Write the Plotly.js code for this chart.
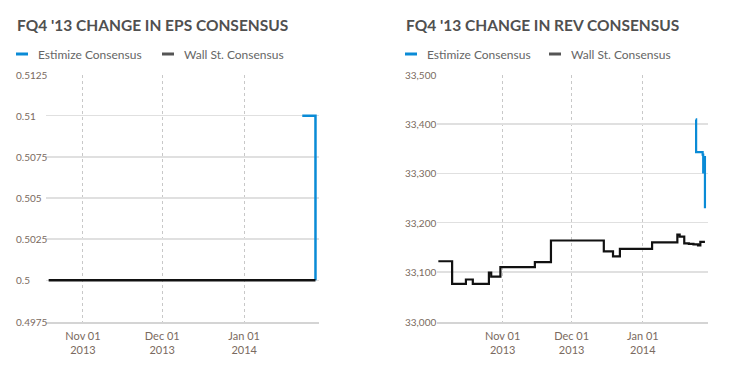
<!DOCTYPE html>
<html>
<head>
<meta charset="utf-8">
<script src="https://cdn.plot.ly/plotly-3.0.1.min.js"></script>
<style>html,body{margin:0;padding:0;background:#fff;}#chart{width:731px;height:380px;}</style>
</head>
<body>
<div id="chart"></div>
<script>
// ---- Data ----
const epsTitle = "FQ4 '13 CHANGE IN EPS CONSENSUS";
const revTitle = "FQ4 '13 CHANGE IN REV CONSENSUS";
const seriesNames = ['Estimize Consensus', 'Wall St. Consensus'];

const epsEstDates = ['2014-01-23', '2014-01-28'];
const epsEstVals = [0.51, 0.5];
const epsWallDates = ['2013-10-19', '2014-01-28'];
const epsWallVals = [0.5, 0.5];

const revEstDates = ['2014-01-24 00:00', '2014-01-24 04:00', '2014-01-27 00:00', '2014-01-27 06:00', '2014-01-27 12:00', '2014-01-28 00:00'];
const revEstVals = [33409, 33343, 33338, 33302, 33333, 33229];
const revWallDates = ['2013-10-04', '2013-10-10', '2013-10-16', '2013-10-19', '2013-10-26', '2013-10-27', '2013-10-31',
  '2013-11-15', '2013-11-22', '2013-12-15', '2013-12-19', '2013-12-22', '2014-01-05', '2014-01-16', '2014-01-17',
  '2014-01-19', '2014-01-21', '2014-01-23', '2014-01-25', '2014-01-26', '2014-01-28'];
const revWallVals = [33122, 33076, 33085, 33076, 33099, 33091, 33110,
  33120, 33164, 33142, 33132, 33147, 33160, 33176, 33172,
  33158, 33157, 33156, 33154, 33161, 33161];

const epsTickVals = [0.4975, 0.5, 0.5025, 0.505, 0.5075, 0.51, 0.5125];
const epsTickText = ['0.4975', '0.5', '0.5025', '0.505', '0.5075', '0.51', '0.5125'];
const revTickVals = [33000, 33100, 33200, 33300, 33400, 33500];
const revTickText = ['33,000', '33,100', '33,200', '33,300', '33,400', '33,500'];
const dateTickVals = ['2013-11-01', '2013-12-01', '2014-01-01'];
const dateTickText = ['Nov 01<br>2013', 'Dec 01<br>2013', 'Jan 01<br>2014'];

// ---- Styles ----
const W = 731, H = 380;
const px = v => v / W;
const py = v => 1 - v / H;
const BLUE = '#0a8bd6';
const BLACK = '#111111';
const FONT = 'Lato, "Open Sans", sans-serif';

const traces = [
  {x: epsEstDates, y: epsEstVals, xaxis: 'x', yaxis: 'y', mode: 'lines', line: {shape: 'hv', color: BLUE, width: 2.5}, name: seriesNames[0]},
  {x: epsWallDates, y: epsWallVals, xaxis: 'x', yaxis: 'y', mode: 'lines', line: {shape: 'hv', color: BLACK, width: 2.5}, name: seriesNames[1]},
  {x: revEstDates, y: revEstVals, xaxis: 'x2', yaxis: 'y2', mode: 'lines', line: {shape: 'hv', color: BLUE, width: 2.2}, name: seriesNames[0]},
  {x: revWallDates, y: revWallVals, xaxis: 'x2', yaxis: 'y2', mode: 'lines', line: {shape: 'hv', color: BLACK, width: 2.2}, name: seriesNames[1]}
];

const xCommon = {
  type: 'date', tickvals: dateTickVals, ticktext: dateTickText,
  showgrid: true, gridcolor: '#c8c8c8', griddash: 'dot', gridwidth: 1,
  showline: true, linecolor: '#d4d4d4', linewidth: 2, ticks: '', zeroline: false, ticklabelstandoff: 3,
  tickfont: {family: FONT, size: 11, color: '#7a6a60'}, fixedrange: true
};
const yCommon = {
  showticklabels: false, showgrid: true, gridcolor: '#e0e0e0', gridwidth: 1.5,
  zeroline: false, ticks: '', showline: false, fixedrange: true
};

const yDom = [py(321.5), py(74.5)];

const annotations = [];
function addTitle(text, x) {
  annotations.push({text: '<b>' + text + '</b>', xref: 'paper', yref: 'paper', x: px(x), y: py(25), xanchor: 'left', yanchor: 'middle',
    showarrow: false, font: {family: FONT, size: 15.5, color: '#505050'}});
}
addTitle(epsTitle, 15);
addTitle(revTitle, 404);

const shapes = [];
function addLegend(x0, label, color) {
  shapes.push({type: 'line', xref: 'paper', yref: 'paper', x0: px(x0), x1: px(x0 + 12), y0: py(54), y1: py(54), line: {color: color, width: 3}});
  annotations.push({text: label, xref: 'paper', yref: 'paper', x: px(x0 + 20), y: py(54), xanchor: 'left', yanchor: 'middle',
    showarrow: false, font: {family: FONT, size: 12, color: '#666'}});
}
addLegend(16, seriesNames[0], BLUE);
addLegend(162, seriesNames[1], '#555');
addLegend(405, seriesNames[0], BLUE);
addLegend(549, seriesNames[1], '#555');

function addYLabels(vals, texts, yref, x) {
  vals.forEach((v, i) => {
    annotations.push({text: texts[i], xref: 'paper', yref: yref, x: px(x), y: v, xanchor: 'left', yanchor: 'middle',
      showarrow: false, font: {family: FONT, size: 10, color: '#7a6a60'}});
  });
}
addYLabels(epsTickVals, epsTickText, 'y', 14);
addYLabels(revTickVals, revTickText, 'y2', 403);

const layout = {
  width: W, height: H, margin: {l: 0, r: 0, t: 0, b: 0},
  paper_bgcolor: '#fff', plot_bgcolor: '#fff', showlegend: false,
  font: {family: FONT},
  xaxis: Object.assign({}, xCommon, {domain: [px(46), px(319)], range: ['2013-10-18', '2014-01-29 08:00'], anchor: 'y'}),
  yaxis: Object.assign({}, yCommon, {domain: yDom, range: [0.4975, 0.5125], tickvals: epsTickVals, anchor: 'x'}),
  xaxis2: Object.assign({}, xCommon, {domain: [px(437), px(708)], range: ['2013-10-03 10:00', '2014-01-29 08:00'], anchor: 'y2'}),
  yaxis2: Object.assign({}, yCommon, {domain: yDom, range: [33000, 33500], tickvals: revTickVals, anchor: 'x2'}),
  annotations: annotations, shapes: shapes
};

Plotly.newPlot('chart', traces, layout, {displayModeBar: false, staticPlot: true});
</script>
</body>
</html>
